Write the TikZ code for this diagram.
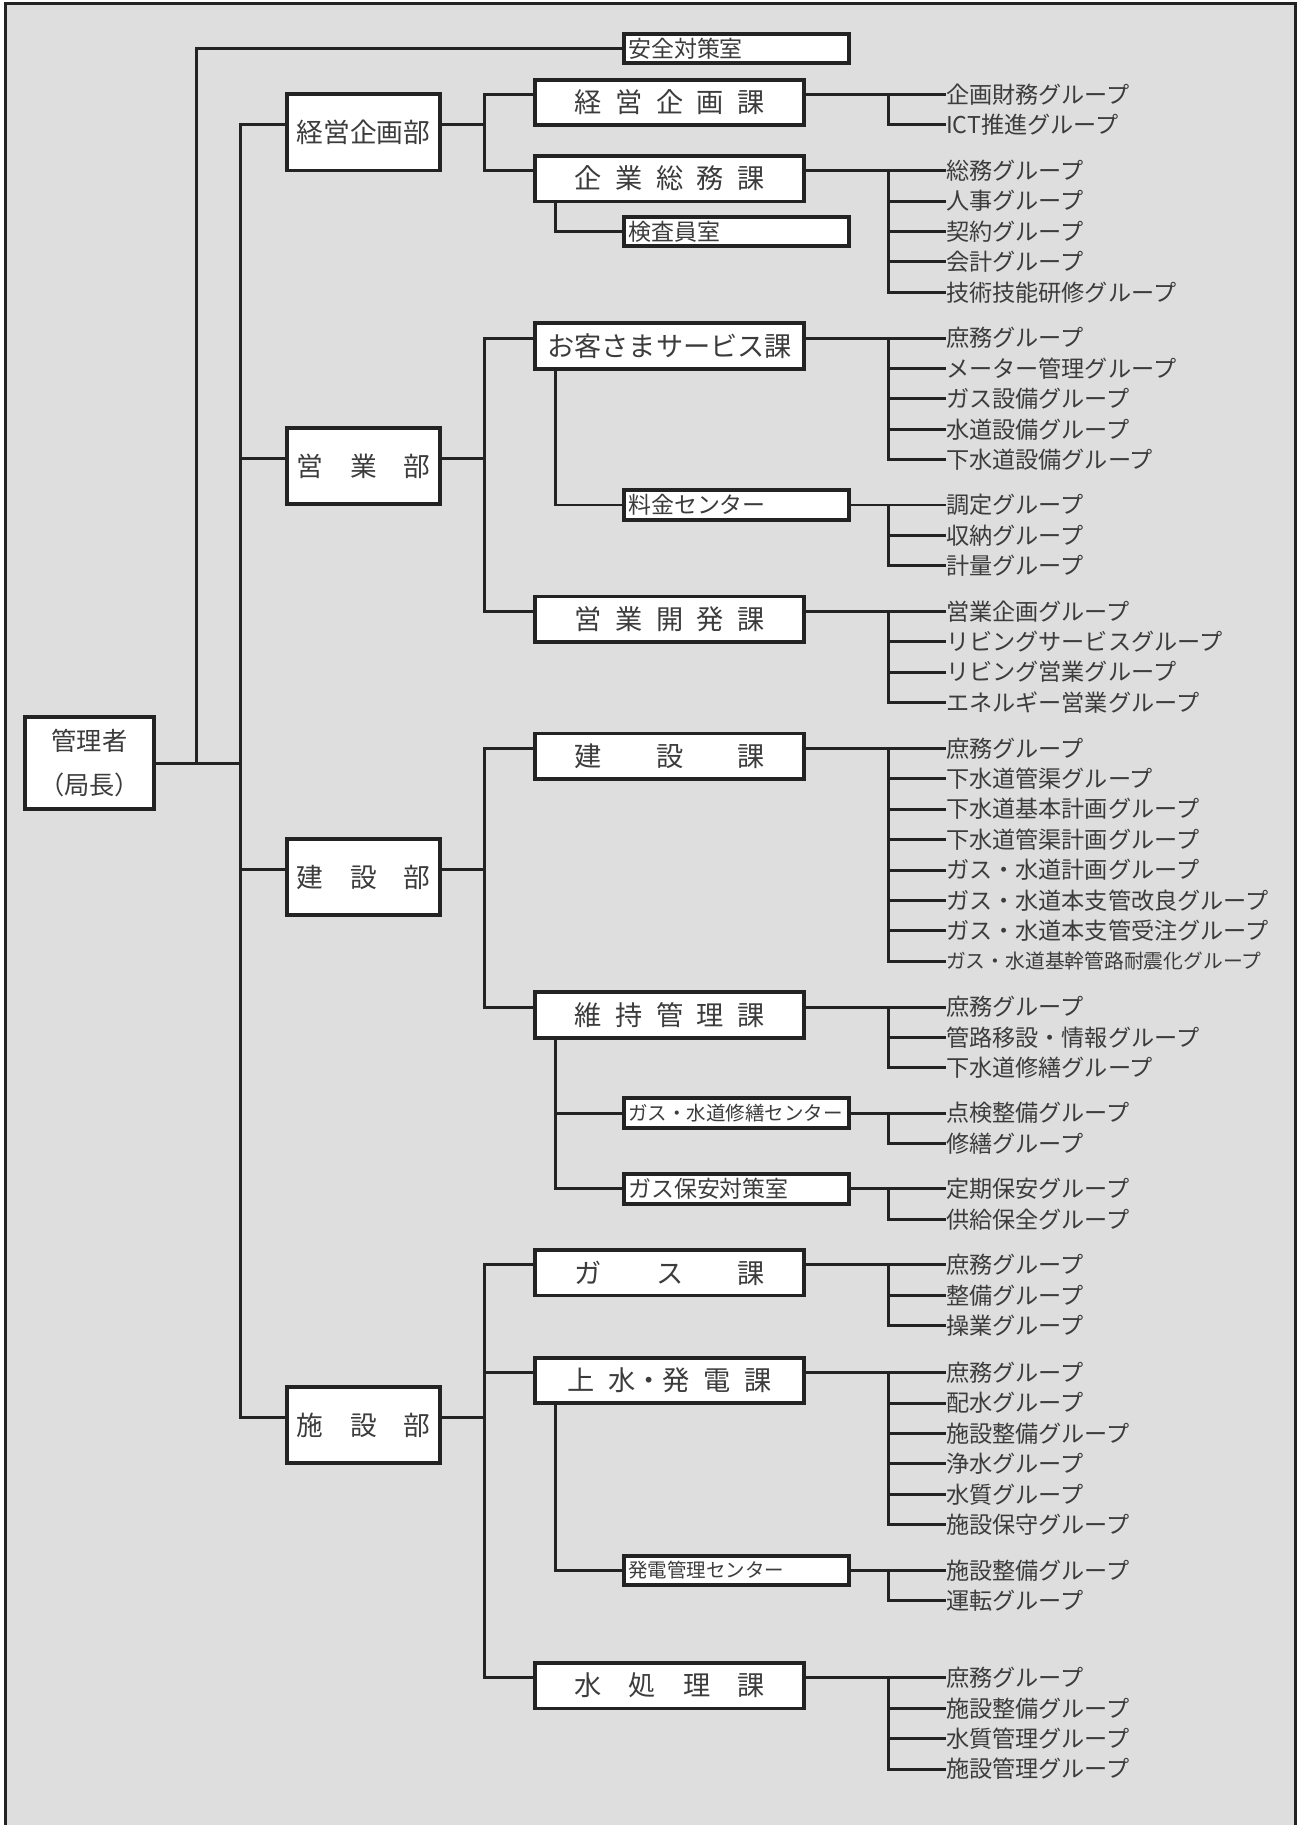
\documentclass[tikz,border=0pt]{standalone}
\usepackage{fontspec}
\setmainfont{Noto Sans CJK JP}
\definecolor{bgc}{RGB}{222,222,222}
\definecolor{inkc}{RGB}{35,35,35}
\definecolor{txtc}{RGB}{60,60,60}
\newcommand\zgrp{\fontsize{11.7pt}{13pt}\selectfont}
\newcommand\zgrps{\fontsize{10pt}{12pt}\selectfont}
\newcommand\zsec{\fontsize{13.75pt}{16pt}\selectfont}
\newcommand\zdep{\fontsize{13.5pt}{16pt}\selectfont}
\newcommand\zboss{\fontsize{12.75pt}{22.5pt}\selectfont}
\newcommand\zsub{\fontsize{11.6pt}{13pt}\selectfont}
\newcommand\zsubs{\fontsize{9.85pt}{12pt}\selectfont}
\newcommand\spreadsec[1]{\makebox[96.25pt][s]{#1}}
\newcommand\spreaddep[1]{\makebox[67.5pt][s]{#1}}
\newcommand\brk[3]{%
  \draw[ln] (#1) -- (#21.west);
  \draw[ln] (gb |- #21.west) |- (#2#3.west);
  \foreach \k in {2,...,#3} {\draw[ln] (gb |- #2\k.west) -- (#2\k.west);}
}
\begin{document}
\begin{tikzpicture}[x=0.5pt,y=-0.5pt,
  ln/.style={line width=1.5pt, draw=inkc},
  boxbase/.style={draw=inkc, line width=1.9pt, fill=white, inner sep=0pt, text=txtc},
  depbox/.style={boxbase, minimum width=77.5pt, minimum height=38.5pt, font=\zdep, text height=10.8pt, text depth=0.55pt},
  secbox/.style={boxbase, minimum width=136pt, minimum height=23pt, font=\zsec, text height=11pt, text depth=0.55pt},
  subbox/.style={boxbase, minimum width=113.5pt, minimum height=15pt, font=\zsub, text width=109.5pt, align=left, text height=9.3pt, text depth=0.46pt},
  subboxs/.style={subbox, font=\zsubs, text height=7.9pt, text depth=0.4pt},
  grp/.style={anchor=west, inner sep=0pt, text=txtc, font=\zgrp, text height=9.36pt, text depth=0.47pt},
  grps/.style={grp, font=\zgrps, text height=8pt, text depth=0.4pt},
]
\fill[white] (0,0) rectangle (1315,1827);
\fill[bgc] (5.5,3.5) rectangle (1309.5,1845);
\draw[line width=1.9pt, draw=inkc] (5.5,1845) -- (5.5,3.5) -- (1309.5,3.5) -- (1309.5,1845);
\useasboundingbox (0,0) rectangle (1315,1827);

% helper x positions
\coordinate (t1) at (199,0);
\coordinate (t2) at (243,0);
\coordinate (bx) at (490,0);
\coordinate (sv) at (561.7,0);
\coordinate (gb) at (898,0);

% top
\node[boxbase, minimum width=65.5pt, minimum height=46.5pt, font=\zboss, align=center] (boss) at (90.5,771.5) {管理者\\（局長）};

% departments
\node[depbox] (d1) at (367.5,133.8) {経営企画部};
\node[depbox] (d2) at (367.5,471.1) {\spreaddep{営\hfill 業\hfill 部}};
\node[depbox] (d3) at (367.5,886.5) {\spreaddep{建\hfill 設\hfill 部}};
\node[depbox] (d4) at (367.5,1440.5) {\spreaddep{施\hfill 設\hfill 部}};

% sections
\node[secbox] (s1) at (677,103.5) {\spreadsec{経\hfill 営\hfill 企\hfill 画\hfill 課}};
\node[secbox] (s2) at (677,180.6) {\spreadsec{企\hfill 業\hfill 総\hfill 務\hfill 課}};
\node[secbox] (s3) at (677,349.8) {お客さまサービス課};
\node[secbox] (s4) at (677,626) {\spreadsec{営\hfill 業\hfill 開\hfill 発\hfill 課}};
\node[secbox] (s5) at (677,764.5) {\spreadsec{建\hfill 設\hfill 課}};
\node[secbox] (s6) at (677,1026) {\spreadsec{維\hfill 持\hfill 管\hfill 理\hfill 課}};
\node[secbox] (s7) at (677,1286.6) {\spreadsec{ガ\hfill ス\hfill 課}};
\node[secbox] (s8) at (677,1395.5) {上\hspace{0.5em}水・発\hspace{0.5em}電\hspace{0.5em}課};
\node[secbox] (s9) at (677,1704) {\spreadsec{水\hfill 処\hfill 理\hfill 課}};

% sub offices
\node[subbox] (anzen) at (744.5,49) {安全対策室};
\node[subbox] (kensa) at (744.5,234) {検査員室};
\node[subbox] (ryokin) at (744.5,510.5) {料金センター};
\node[subboxs] (shuzen) at (744.5,1125.3) {ガス・水道修繕センター};
\node[subbox] (hoan) at (744.5,1201.8) {ガス保安対策室};
\node[subboxs] (hatsu) at (744.5,1587.6) {発電管理センター};

% ports
\foreach \n in {d1,d2,d3,d4} {
  \coordinate (\n w) at ([yshift=3.75pt]\n.west);
  \coordinate (\n e) at ([yshift=3.75pt]\n.east);
}
\foreach \n in {s1,s2,s3,s4,s5,s6,s7,s8,s9} {
  \coordinate (\n w) at ([yshift=4pt]\n.west);
  \coordinate (\n e) at ([yshift=4pt]\n.east);
}

% groups
\node[grp] (a1) at (956,95.5) {企画財務グループ};
\node[grp] (a2) at (956,126.3) {ICT推進グループ};

\node[grp] (b1) at (956,172.6) {総務グループ};
\node[grp] (b2) at (956,203.3) {人事グループ};
\node[grp] (b3) at (956,234.0) {契約グループ};
\node[grp] (b4) at (956,264.8) {会計グループ};
\node[grp] (b5) at (956,295.5) {技術技能研修グループ};

\node[grp] (c1) at (956,341.8) {庶務グループ};
\node[grp] (c2) at (956,372.5) {メーター管理グループ};
\node[grp] (c3) at (956,403.2) {ガス設備グループ};
\node[grp] (c4) at (956,434.0) {水道設備グループ};
\node[grp] (c5) at (956,464.7) {下水道設備グループ};

\node[grp] (e1) at (956,510.5) {調定グループ};
\node[grp] (e2) at (956,541.3) {収納グループ};
\node[grp] (e3) at (956,572.0) {計量グループ};

\node[grp] (f1) at (956,618.0) {営業企画グループ};
\node[grp] (f2) at (956,648.8) {リビングサービスグループ};
\node[grp] (f3) at (956,679.5) {リビング営業グループ};
\node[grp] (f4) at (956,710.3) {エネルギー営業グループ};

\node[grp] (h1) at (956,756.5) {庶務グループ};
\node[grp] (h2) at (956,787.3) {下水道管渠グループ};
\node[grp] (h3) at (956,818.0) {下水道基本計画グループ};
\node[grp] (h4) at (956,848.8) {下水道管渠計画グループ};
\node[grp] (h5) at (956,879.5) {ガス・水道計画グループ};
\node[grp] (h6) at (956,910.3) {ガス・水道本支管改良グループ};
\node[grp] (h7) at (956,941.0) {ガス・水道本支管受注グループ};
\node[grps] (h8) at (956,971.8) {ガス・水道基幹管路耐震化グループ};

\node[grp] (i1) at (956,1018.0) {庶務グループ};
\node[grp] (i2) at (956,1048.8) {管路移設・情報グループ};
\node[grp] (i3) at (956,1079.5) {下水道修繕グループ};

\node[grp] (j1) at (956,1125.3) {点検整備グループ};
\node[grp] (j2) at (956,1156.1) {修繕グループ};

\node[grp] (k1) at (956,1201.8) {定期保安グループ};
\node[grp] (k2) at (956,1232.6) {供給保全グループ};

\node[grp] (l1) at (956,1278.6) {庶務グループ};
\node[grp] (l2) at (956,1309.4) {整備グループ};
\node[grp] (l3) at (956,1340.1) {操業グループ};

\node[grp] (m1) at (956,1387.5) {庶務グループ};
\node[grp] (m2) at (956,1418.3) {配水グループ};
\node[grp] (m3) at (956,1449.0) {施設整備グループ};
\node[grp] (m4) at (956,1479.8) {浄水グループ};
\node[grp] (m5) at (956,1510.5) {水質グループ};
\node[grp] (m6) at (956,1541.3) {施設保守グループ};

\node[grp] (p1) at (956,1587.6) {施設整備グループ};
\node[grp] (p2) at (956,1618.4) {運転グループ};

\node[grp] (q1) at (956,1696.0) {庶務グループ};
\node[grp] (q2) at (956,1726.8) {施設整備グループ};
\node[grp] (q3) at (956,1757.5) {水質管理グループ};
\node[grp] (q4) at (956,1788.3) {施設管理グループ};

% trunk connectors
\draw[ln] (boss.east) -- (t2 |- boss.east);
\draw[ln] (t1 |- boss.east) |- (anzen.west);
\draw[ln] (d1w) -| (t2 |- d4w) -- (d4w);
\draw[ln] (t2 |- d2w) -- (d2w);
\draw[ln] (t2 |- d3w) -- (d3w);

% department to sections
\draw[ln] (d1e) -- (bx |- d1e);
\draw[ln] (s1w) -| (bx |- s2w) -- (s2w);
\draw[ln] (d2e) -- (bx |- d2e);
\draw[ln] (s3w) -| (bx |- s4w) -- (s4w);
\draw[ln] (d3e) -- (bx |- d3e);
\draw[ln] (s5w) -| (bx |- s6w) -- (s6w);
\draw[ln] (d4e) -- (bx |- d4e);
\draw[ln] (s7w) -| (bx |- s9w) -- (s9w);
\draw[ln] (bx |- s8w) -- (s8w);

% sections to sub offices
\draw[ln] (sv |- s2.south) |- (kensa.west);
\draw[ln] (sv |- s3.south) |- (ryokin.west);
\draw[ln] (sv |- s6.south) |- (hoan.west);
\draw[ln] (sv |- shuzen.west) -- (shuzen.west);
\draw[ln] (sv |- s8.south) |- (hatsu.west);

% to groups
\brk{s1e}{a}{2}
\brk{s2e}{b}{5}
\brk{s3e}{c}{5}
\brk{ryokin.east}{e}{3}
\brk{s4e}{f}{4}
\brk{s5e}{h}{8}
\brk{s6e}{i}{3}
\brk{shuzen.east}{j}{2}
\brk{hoan.east}{k}{2}
\brk{s7e}{l}{3}
\brk{s8e}{m}{6}
\brk{hatsu.east}{p}{2}
\brk{s9e}{q}{4}
\end{tikzpicture}
\end{document}
